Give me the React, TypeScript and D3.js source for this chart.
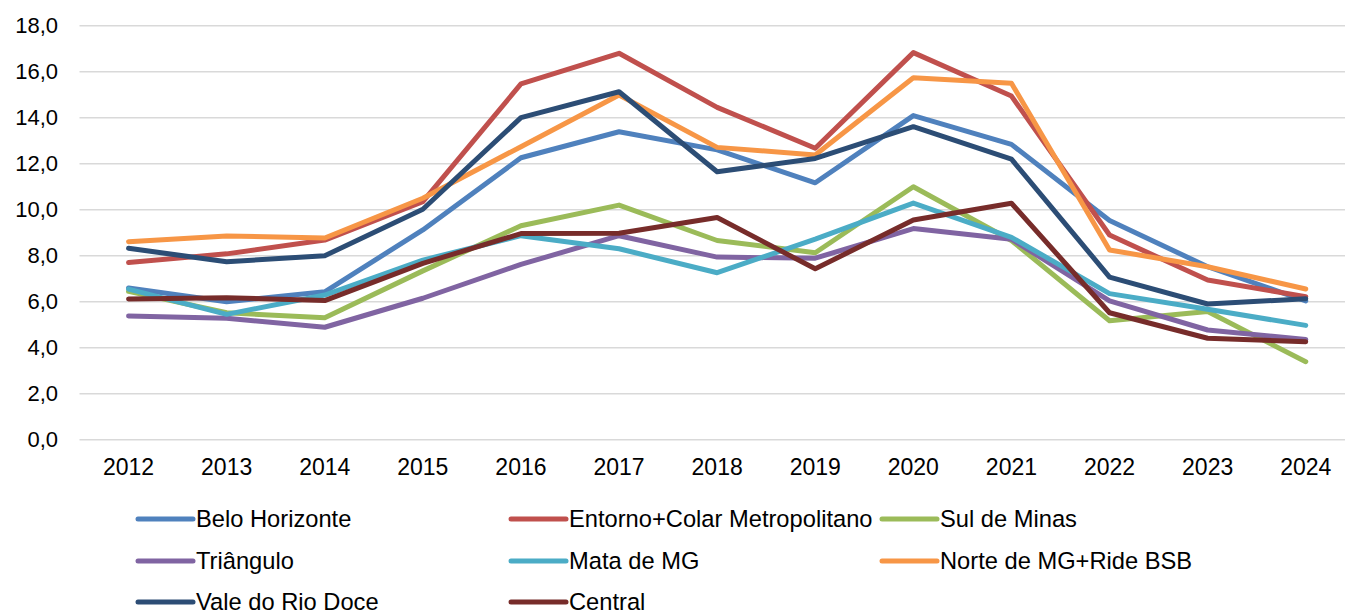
import React, { useEffect, useRef } from "react";
import * as d3 from "d3";

// Years on the category axis
const years = ["2012", "2013", "2014", "2015", "2016", "2017", "2018", "2019", "2020", "2021", "2022", "2023", "2024"];

// Series values
const beloHorizonte = [6.6, 6.0, 6.43, 9.12, 12.26, 13.39, 12.6, 11.17, 14.09, 12.84, 9.53, 7.52, 6.03];
const entorno = [7.7, 8.08, 8.68, 10.35, 15.47, 16.8, 14.45, 12.67, 16.83, 14.94, 8.9, 6.94, 6.22];
const sulDeMinas = [6.45, 5.52, 5.3, 7.34, 9.3, 10.2, 8.66, 8.13, 11.0, 8.66, 5.17, 5.57, 3.39];
const triangulo = [5.38, 5.28, 4.89, 6.15, 7.62, 8.87, 7.94, 7.89, 9.18, 8.72, 6.04, 4.77, 4.36];
const mataDeMG = [6.55, 5.45, 6.29, 7.81, 8.87, 8.3, 7.26, 8.72, 10.29, 8.8, 6.35, 5.67, 4.97];
const norteDeMG = [8.61, 8.86, 8.77, 10.5, 12.74, 14.99, 12.71, 12.38, 15.74, 15.5, 8.25, 7.52, 6.55];
const valeDoRioDoce = [8.32, 7.74, 8.0, 10.02, 14.0, 15.13, 11.65, 12.23, 13.61, 12.2, 7.07, 5.9, 6.13];
const central = [6.12, 6.17, 6.05, 7.67, 8.96, 8.98, 9.66, 7.43, 9.55, 10.28, 5.52, 4.41, 4.26];

const seriesNames = [
  "Belo Horizonte",
  "Entorno+Colar Metropolitano",
  "Sul de Minas",
  "Triângulo",
  "Mata de MG",
  "Norte de MG+Ride BSB",
  "Vale do Rio Doce",
  "Central",
];
const seriesValues = [beloHorizonte, entorno, sulDeMinas, triangulo, mataDeMG, norteDeMG, valeDoRioDoce, central];
const colors = ["#4F81BD", "#C0504D", "#9BBB59", "#8064A2", "#4BACC6", "#F79646", "#2C4D75", "#772C2A"];

const yTickValues = [0, 2, 4, 6, 8, 10, 12, 14, 16, 18];

const App = () => {
  const svgRef = useRef<SVGSVGElement>(null);
  const width = 1345;
  const height = 615;

  useEffect(() => {
    const svg = d3.select(svgRef.current);
    svg.selectAll("*").remove();

    const font = "'Liberation Sans', Arial, sans-serif";
    const plotLeft = 79.5;
    const plotRight = 1354.8;

    // X scale (years as categories)
    const x = d3.scaleBand().domain(years).range([plotLeft, plotRight]).padding(0);
    const cx = (yr: string) => (x(yr) as number) + x.bandwidth() / 2;

    // Y scale
    const y = d3.scaleLinear().domain([0, 18]).range([439.7, 25.7]);

    // grid lines
    svg
      .append("g")
      .selectAll("line")
      .data(yTickValues)
      .enter()
      .append("line")
      .attr("x1", plotLeft)
      .attr("x2", plotRight)
      .attr("y1", (d) => y(d))
      .attr("y2", (d) => y(d))
      .style("stroke", "#D9D9D9")
      .style("stroke-width", 1.5);

    // y labels
    svg
      .append("g")
      .selectAll("text")
      .data(yTickValues)
      .enter()
      .append("text")
      .attr("x", 58)
      .attr("y", (d) => y(d))
      .attr("dy", "0.35em")
      .attr("text-anchor", "end")
      .style("font-family", font)
      .style("font-size", "22px")
      .style("fill", "#000")
      .text((d) => d.toFixed(1).replace(".", ","));

    // x labels
    svg
      .append("g")
      .selectAll("text")
      .data(years)
      .enter()
      .append("text")
      .attr("x", (d) => cx(d))
      .attr("y", 467)
      .attr("dy", "0.35em")
      .attr("text-anchor", "middle")
      .style("font-family", font)
      .style("font-size", "23px")
      .style("fill", "#000")
      .text((d) => d);

    // lines
    const line = d3
      .line<number>()
      .x((_, i) => cx(years[i]))
      .y((d) => y(d));

    seriesValues.forEach((vals, i) => {
      svg
        .append("path")
        .datum(vals)
        .attr("d", line)
        .attr("fill", "none")
        .attr("stroke", colors[i])
        .attr("stroke-width", 5)
        .attr("stroke-linejoin", "round")
        .attr("stroke-linecap", "round");
    });

    // legend (3 columns)
    const colX = [138, 511, 882];
    const rowY = [519, 561, 602];
    const legend = svg.append("g");
    seriesNames.forEach((name, i) => {
      const lx = colX[i % 3];
      const ly = rowY[Math.floor(i / 3)];
      legend
        .append("line")
        .attr("x1", lx)
        .attr("x2", lx + 55)
        .attr("y1", ly)
        .attr("y2", ly)
        .attr("stroke", colors[i])
        .attr("stroke-width", 5)
        .attr("stroke-linecap", "round");
      legend
        .append("text")
        .attr("x", lx + 58)
        .attr("y", ly)
        .attr("dy", "0.35em")
        .style("font-family", font)
        .style("font-size", "23.7px")
        .style("fill", "#000")
        .text(name);
    });
  }, []);

  return (
    <div style={{ position: "absolute", left: 0, top: 0 }}>
      <svg ref={svgRef} width={width} height={height} style={{ display: "block" }} />
    </div>
  );
};

export default App;
